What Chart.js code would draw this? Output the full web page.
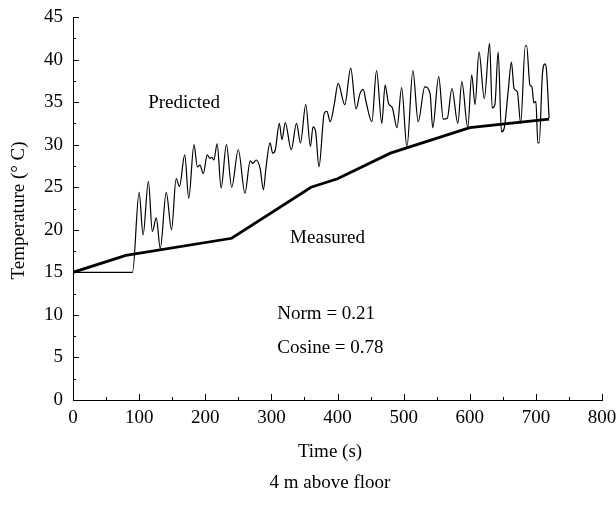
<!DOCTYPE html>
<html>
<head>
<meta charset="utf-8">
<script src="https://cdn.jsdelivr.net/npm/chart.js@4.4.1/dist/chart.umd.min.js"></script>
<style>
  html, body { margin: 0; padding: 0; background: #fff; }
  #wrap { width: 616px; height: 510px; }
</style>
</head>
<body>
<div id="wrap"><canvas id="myChart" width="616" height="510"></canvas></div>
<script>
var predictedTime = [0, 90, 100, 106, 114, 120, 126, 132, 141, 149, 156, 161, 169, 175, 183, 188, 192, 197, 203, 207, 210, 213, 218, 224, 232, 240, 250, 260, 268, 272, 277, 283, 288, 292, 298, 302, 306, 312, 316, 321, 330, 338, 344, 352, 359, 363, 367, 372, 380, 384, 389, 395, 401, 411, 420, 428, 434, 439, 443, 452, 459, 467, 472, 477, 483, 490, 497, 505, 514, 522, 532, 540, 544, 553, 560, 566, 573, 582, 588, 597, 603, 608, 614, 622, 630, 634, 638, 643, 648, 652, 658, 663, 667, 672, 677, 684, 686, 691, 694, 697, 700, 703, 705, 710, 714, 716, 720];
var predictedTemp = [15, 15, 24.4, 19.4, 25.7, 19.8, 21.4, 17.8, 24.4, 20.0, 26.0, 25.1, 28.8, 23.7, 30.0, 27.4, 27.6, 26.6, 28.8, 28.4, 28.5, 28.2, 30.1, 24.9, 30.0, 25.0, 29.4, 24.3, 28.1, 27.8, 28.2, 27.2, 24.7, 27.4, 30.2, 29.0, 29.4, 32.5, 30.6, 32.6, 29.4, 32.5, 30.2, 34.7, 29.8, 32.1, 31.5, 27.4, 33.7, 33.9, 32.7, 34.7, 37.2, 34.7, 39.0, 34.2, 36.0, 36.5, 35.1, 32.7, 38.7, 32.5, 37.0, 34.9, 34.3, 32.0, 36.7, 29.7, 38.7, 32.7, 36.8, 36.0, 32.0, 38.0, 33.0, 33.1, 36.6, 32.5, 37.4, 32.0, 38.2, 34.7, 40.9, 35.4, 41.9, 34.3, 34.7, 40.9, 31.5, 31.9, 36.2, 39.7, 36.6, 36.2, 32.5, 41.6, 41.6, 37.0, 36.8, 34.9, 35.1, 30.2, 30.2, 38.4, 39.5, 38.8, 33.1];
var measuredTime = [0, 80, 240, 360, 400, 480, 600, 720];
var measuredTemp = [15, 17, 19, 25, 26, 29, 32, 33];
var xTicks = [0, 100, 200, 300, 400, 500, 600, 700, 800];
var yTicks = [0, 5, 10, 15, 20, 25, 30, 35, 40, 45];

var FONT = '"Liberation Serif", "DejaVu Serif", serif';

function pairs(xs, ys) {
    return xs.map(function (x, i) { return { x: x, y: ys[i] }; });
}

// inside tick marks + text labels on the plot
const decor = {
    id: 'decor',
    afterDraw(chart) {
        const ctx = chart.ctx;
        const xs = chart.scales.x, ys = chart.scales.y;
        const a = chart.chartArea;
        ctx.save();
        ctx.strokeStyle = '#000';
        ctx.lineWidth = 1;
        ctx.beginPath();
        for (let v = 0; v <= 45; v += 2.5) {
            const p = Math.round(ys.getPixelForValue(v)) + 0.5;
            const len = v % 5 === 0 ? 6 : 3;
            ctx.moveTo(a.left, p);
            ctx.lineTo(a.left + len, p);
        }
        for (let v = 0; v <= 800; v += 50) {
            const p = Math.round(xs.getPixelForValue(v)) + 0.5;
            const len = v % 100 === 0 ? 6 : 3;
            ctx.moveTo(p, a.bottom);
            ctx.lineTo(p, a.bottom - len);
        }
        ctx.stroke();

        ctx.fillStyle = '#000';
        ctx.font = '19px ' + FONT;
        ctx.textBaseline = 'middle';
        ctx.textAlign = 'center';
        ctx.fillText('Predicted', xs.getPixelForValue(168), ys.getPixelForValue(34.9));
        ctx.fillText('Measured', xs.getPixelForValue(385), ys.getPixelForValue(19.0));
        ctx.textAlign = 'left';
        ctx.fillText('Norm = 0.21', xs.getPixelForValue(309), ys.getPixelForValue(10.1));
        ctx.fillText('Cosine = 0.78', xs.getPixelForValue(309), ys.getPixelForValue(6.1));
        ctx.textAlign = 'center';
        const cx = 330;
        ctx.fillText('Time (s)', cx, a.bottom + 52);
        ctx.fillText('4 m above floor', cx, a.bottom + 83);

        ctx.translate(19, (a.top + a.bottom) / 2 + 2);
        ctx.rotate(-Math.PI / 2);
        ctx.fillText('Temperature (\u00B0 C)', 0, 0);
        ctx.restore();
    }
};

const data = {
    datasets: [{
        label: 'Predicted',
        data: pairs(predictedTime, predictedTemp),
        borderColor: '#000',
        borderWidth: 1.2,
        pointRadius: 0,
        cubicInterpolationMode: 'monotone',
        fill: false
    }, {
        label: 'Measured',
        data: pairs(measuredTime, measuredTemp),
        borderColor: '#000',
        borderWidth: 2.8,
        pointRadius: 0,
        tension: 0,
        fill: false
    }]
};

const config = {
    type: 'line',
    data: data,
    plugins: [decor],
    options: {
        responsive: false,
        animation: false,
        layout: { padding: { top: 17, right: 14, left: 0, bottom: 0 } },
        plugins: {
            legend: { display: false },
            tooltip: { enabled: false }
        },
        scales: {
            x: {
                type: 'linear',
                min: 0,
                max: 800,
                afterBuildTicks: function (s) { s.ticks = xTicks.map(function (v) { return { value: v }; }); },
                afterFit: function (s) { s.height = 110; s.paddingRight = 0; s.paddingLeft = 0; },
                grid: { display: true, drawOnChartArea: false, drawTicks: false },
                border: { display: true, color: '#000', width: 1 },
                ticks: { color: '#000', font: { family: FONT, size: 19 }, padding: 7, maxRotation: 0 }
            },
            y: {
                min: 0,
                max: 45,
                afterBuildTicks: function (s) { s.ticks = yTicks.map(function (v) { return { value: v }; }); },
                afterFit: function (s) { s.width = 73; s.paddingTop = 0; s.paddingBottom = 0; },
                grid: { display: true, drawOnChartArea: false, drawTicks: false },
                border: { display: true, color: '#000', width: 1 },
                ticks: { color: '#000', font: { family: FONT, size: 19 }, padding: 10 }
            }
        }
    }
};

const myChart = new Chart(document.getElementById('myChart'), config);
</script>
</body>
</html>
